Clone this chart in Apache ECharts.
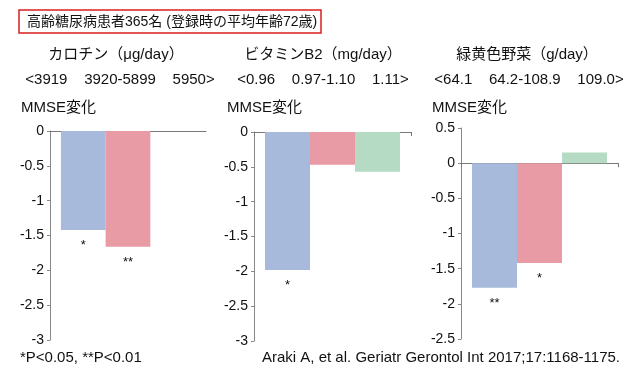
<!DOCTYPE html>
<html>
<head>
<meta charset="utf-8">
<script src="https://cdn.jsdelivr.net/npm/echarts@6/dist/echarts.min.js"></script>
<style>
  html, body { margin: 0; padding: 0; background: #fff; }
  #chart-container { width: 640px; height: 375px; }
</style>
</head>
<body>
<div id="chart-container"></div>
<script>
var FONT = '"Liberation Sans", "Noto Sans CJK JP", sans-serif';

// data
var panelTitles = ['カロチン（μg/day）', 'ビタミンB2（mg/day）', '緑黄色野菜（g/day）'];
var rangeLabels = ['<3919    3920-5899    5950>', '<0.96    0.97-1.10    1.11>', '<64.1    64.2-108.9    109.0>'];
var carotene = [-1.42, -1.66, null];
var vitaminB2 = [-1.98, -0.47, -0.57];
var vegetables = [-1.77, -1.42, 0.15];
var stars = [['*', '**', ''], ['*', '', ''], ['**', '*', '']];
var yMin = [-3, -3, -2.5];
var yMax = [0, 0, 0.5];

var panelValues = [carotene, vitaminB2, vegetables];
var colors = ['#a8badb', '#e89ba5', '#b6dbc4'];

var grids = [
  { left: 50, top: 131, width: 156, height: 209 },
  { left: 254, top: 132, width: 157, height: 209 },
  { left: 461, top: 128, width: 157, height: 211 }
];
var titleX = [116, 323, 527];
var rangeX = [120, 323, 529];
var mmseX = [21, 227, 432];

var chartDom = document.getElementById('chart-container');
var myChart = echarts.init(chartDom);

var xAxes = [], yAxes = [], series = [], graphics = [];

for (var p = 0; p < 3; p++) {
  xAxes.push({
    type: 'category',
    gridIndex: p,
    data: [''],
    axisLine: { onZero: true, lineStyle: { color: '#777', width: 1 } },
    axisTick: { show: p > 0, length: 4, lineStyle: { color: '#777' } },
    axisLabel: { show: false }
  });
  yAxes.push({
    type: 'value',
    gridIndex: p,
    min: yMin[p],
    max: yMax[p],
    interval: 0.5,
    splitLine: { show: false },
    axisLine: { show: true, lineStyle: { color: '#888' } },
    axisTick: { show: true, length: 3, lineStyle: { color: '#888' } },
    axisLabel: { color: '#111', fontSize: 14, fontFamily: FONT, margin: 6 }
  });
  for (var t = 0; t < 3; t++) {
    var v = panelValues[p][t];
    series.push({
      type: 'bar',
      xAxisIndex: p,
      yAxisIndex: p,
      barGap: '0%',
      barCategoryGap: '14%',
      data: [v === null ? '-' : v],
      itemStyle: { color: colors[t] },
      label: {
        show: stars[p][t] !== '',
        position: 'bottom',
        distance: 9,
        formatter: stars[p][t],
        color: '#111',
        fontSize: 13,
        fontFamily: FONT
      },
      silent: true
    });
  }
  graphics.push({
    type: 'text', x: titleX[p], y: 55,
    style: { text: panelTitles[p], fill: '#111', font: '15px ' + FONT, textAlign: 'center', textVerticalAlign: 'middle' }
  });
  graphics.push({
    type: 'text', x: rangeX[p], y: 80,
    style: { text: rangeLabels[p], fill: '#111', font: '15px ' + FONT, textAlign: 'center', textVerticalAlign: 'middle' }
  });
  graphics.push({
    type: 'text', x: mmseX[p], y: 108,
    style: { text: 'MMSE変化', fill: '#111', font: '15px ' + FONT, textAlign: 'left', textVerticalAlign: 'middle' }
  });
}

graphics.push({
  type: 'rect',
  shape: { x: 19, y: 10, width: 302, height: 23 },
  style: { fill: 'none', stroke: '#d9201e', lineWidth: 1.5 }
});
graphics.push({
  type: 'text', x: 27, y: 22,
  style: { text: '高齢糖尿病患者365名 (登録時の平均年齢72歳)', fill: '#111', font: '14px ' + FONT, textAlign: 'left', textVerticalAlign: 'middle' }
});
graphics.push({
  type: 'text', x: 20, y: 358,
  style: { text: '*P<0.05, **P<0.01', fill: '#111', font: '15px ' + FONT, textAlign: 'left', textVerticalAlign: 'middle' }
});
graphics.push({
  type: 'text', x: 620, y: 358,
  style: { text: 'Araki A, et al. Geriatr Gerontol Int 2017;17:1168-1175.', fill: '#111', font: '15px ' + FONT, textAlign: 'right', textVerticalAlign: 'middle' }
});

option = {
  backgroundColor: '#fff',
  animation: false,
  grid: grids,
  xAxis: xAxes,
  yAxis: yAxes,
  series: series,
  graphic: graphics
};

option && myChart.setOption(option);
</script>
</body>
</html>
